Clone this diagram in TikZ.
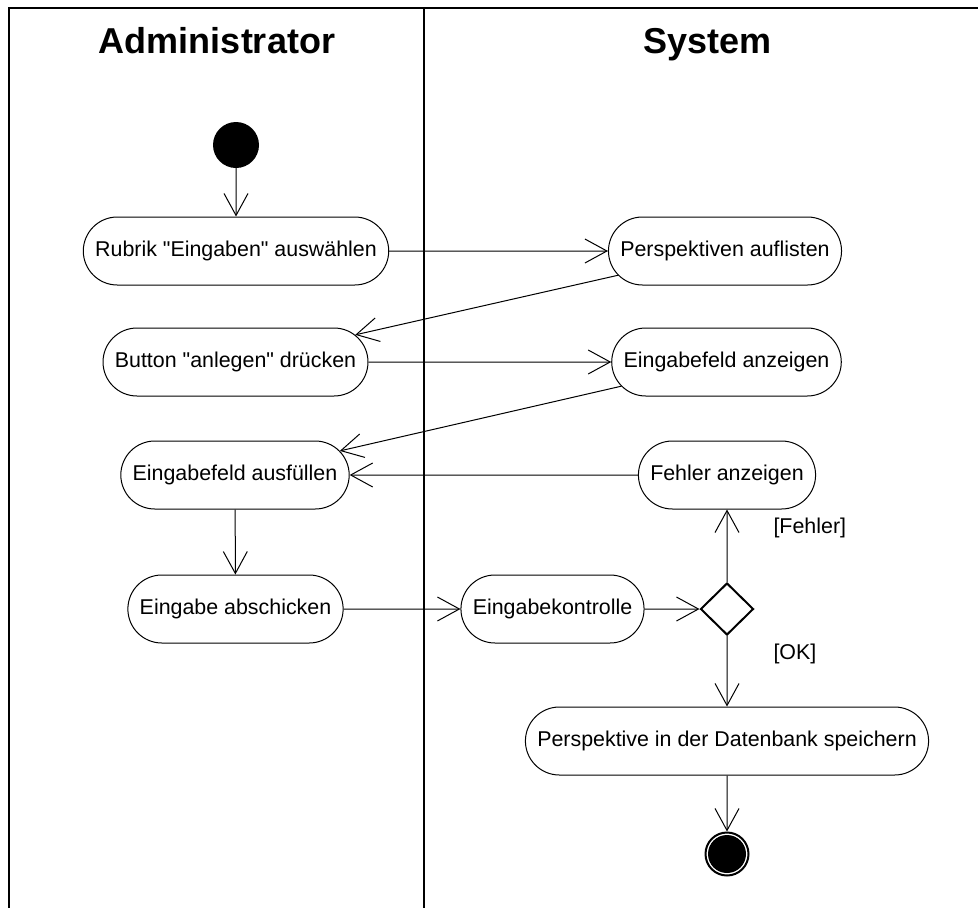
\documentclass[tikz,border=0pt]{standalone}
\usepackage{fontspec}
\setmainfont{Liberation Sans}[Ligatures=TeXOff]
\usetikzlibrary{positioning, shapes.misc, shapes.geometric, arrows.meta}

\begin{document}
\begin{tikzpicture}[x=1pt, y=-1pt,
    aktion/.style={rounded rectangle, draw, line width=1pt, font=\fontsize{21.4}{25}\selectfont,
      text height=15pt, text depth=4pt, inner xsep=10.5pt, minimum height=68pt},
    fluss/.style={line width=1pt, -{Straight Barb[length=22pt, width=24pt, line width=1pt]}},
    bahn/.style={line width=2pt},
    titel/.style={font=\fontsize{36}{40}\selectfont\bfseries, anchor=base},
    waechter/.style={font=\fontsize{21.4}{25}\selectfont, anchor=west}]
  \useasboundingbox (0,0) rectangle (978,908);
  % Schwimmbahnen
  \draw[bahn] (978,8) -- (9,8) -- (9,908);
  \draw[bahn] (424,8) -- (424,908);
  \node[titel] at (217,53) {Administrator};
  \node[titel] at (707.5,53) {System};
  % Administrator
  \node[circle, fill, minimum size=46pt, inner sep=0pt] (start) at (236,145) {};
  \node[aktion] (rubrik) at (236,251) {Rubrik "Eingaben" auswählen};
  \node[aktion] (button) at (235.5,362) {Button "anlegen" drücken};
  \node[aktion] (ausfuellen) at (235,475) {Eingabefeld ausfüllen};
  \node[aktion] (abschicken) at (235.5,609) {Eingabe abschicken};
  % System
  \node[aktion] (auflisten) at (725,251) {Perspektiven auflisten};
  \node[aktion] (anzeigen) at (726.5,362) {Eingabefeld anzeigen};
  \node[aktion] (fehler) at (727,475) {Fehler anzeigen};
  \node[aktion] (kontrolle) at (552.5,609) {Eingabekontrolle};
  \node[diamond, draw, line width=2pt, minimum width=53pt, minimum height=52pt, inner sep=0pt] (wahl) at (727,609) {};
  \node[aktion] (speichern) at (727,741) {Perspektive in der Datenbank speichern};
  \node[circle, draw, line width=2pt, minimum size=43pt, inner sep=0pt,
    path picture={\fill (path picture bounding box.center) circle (19pt);}] (ende) at (727,854) {};
  \node[waechter] at (770,528) {[Fehler]};
  \node[waechter] at (770,654) {[OK]};
  % Kanten
  \draw[fluss] (start) -- (rubrik);
  \draw[fluss] (rubrik) -- (auflisten);
  \draw[fluss] (auflisten) -- (button);
  \draw[fluss] (button) -- (anzeigen);
  \draw[fluss] (anzeigen) -- (ausfuellen);
  \draw[fluss] (fehler) -- (ausfuellen);
  \draw[fluss] (ausfuellen) -- (abschicken);
  \draw[fluss] (abschicken) -- (kontrolle);
  \draw[fluss] (kontrolle) -- (wahl);
  \draw[fluss] (wahl) -- (fehler);
  \draw[fluss] (wahl) -- (speichern);
  \draw[fluss] (speichern) -- (ende);
\end{tikzpicture}
\end{document}
